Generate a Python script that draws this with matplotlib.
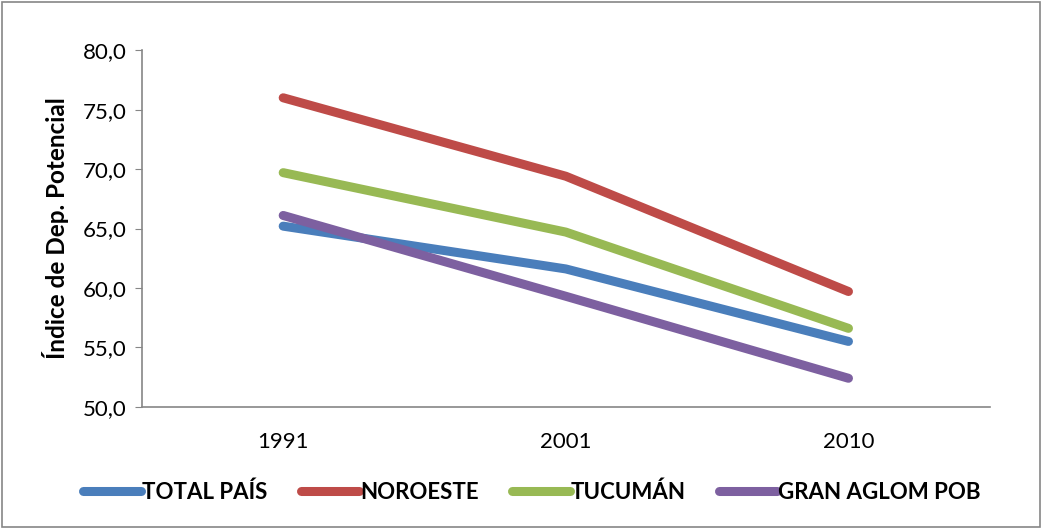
import matplotlib.pyplot as plt
from matplotlib.patches import Rectangle
from matplotlib.ticker import FuncFormatter

plt.rcParams['font.family'] = ['Lato', 'DejaVu Sans']

# datos
anios = ['1991', '2001', '2010']
total_pais = [65.2, 61.6, 55.5]
noroeste = [76.0, 69.4, 59.7]
tucuman = [69.7, 64.7, 56.6]
gran_aglom = [66.1, 59.3, 52.4]

series = [
    ('TOTAL PAÍS', total_pais, '#4A7EBB'),
    ('NOROESTE', noroeste, '#BE4B48'),
    ('TUCUMÁN', tucuman, '#98B954'),
    ('GRAN AGLOM POB', gran_aglom, '#7D60A0'),
]

fig = plt.figure(figsize=(10.43, 5.29), dpi=100)
ax = fig.add_axes([0.136, 0.231, 0.813, 0.674])

x = range(len(anios))
for nombre, vals, color in series:
    ax.plot(x, vals, color=color, lw=6.5, solid_capstyle='round',
            solid_joinstyle='round', label=nombre)

ax.set_xlim(-0.5, 2.5)
ax.set_ylim(50, 80)
ax.set_yticks(range(50, 81, 5))
ax.yaxis.set_major_formatter(FuncFormatter(lambda v, p: f'{v:.1f}'.replace('.', ',')))
ax.set_xticks(list(x))
ax.set_xticklabels(anios)
ax.tick_params(axis='y', labelsize=16, length=5, color='#868686', pad=6)
ax.tick_params(axis='x', labelsize=16, length=0, pad=18)

for s in ['top', 'right']:
    ax.spines[s].set_visible(False)
for s in ['left', 'bottom']:
    ax.spines[s].set_color('#868686')
    ax.spines[s].set_linewidth(1.2)

ax.set_ylabel('Índice de Dep. Potencial', fontsize=17.5, fontweight='bold', labelpad=10)

fig.legend(loc='center', bbox_to_anchor=(0.51, 0.07), ncol=4, frameon=False,
           handlelength=2.6, columnspacing=1.5, handletextpad=0.05,
           prop={'weight': 'bold', 'size': 16})

fig.patches.append(Rectangle((0.002, 0.003), 0.995, 0.993, transform=fig.transFigure,
                             fill=False, edgecolor='#868686', lw=1.2))

fig.savefig('out.png', dpi=100)
